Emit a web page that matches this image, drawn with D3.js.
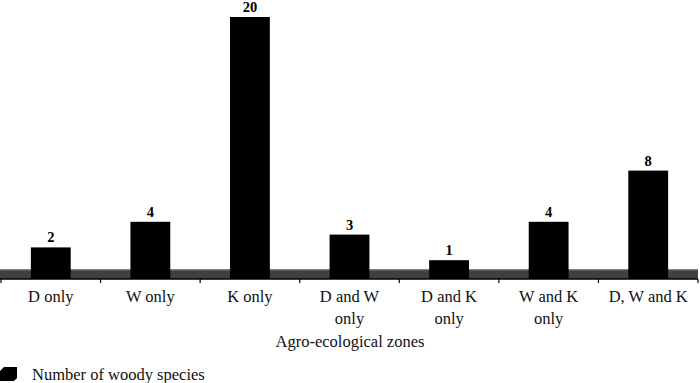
<!DOCTYPE html>
<html>
<head>
<meta charset="utf-8">
<script src="https://cdn.jsdelivr.net/npm/d3@7"></script>
<style>
  body { margin: 0; background: #fff; }
  text { font-family: "Liberation Serif", "Times New Roman", serif; }
</style>
</head>
<body>
<div id="chart"></div>
<script>
// data
const categories = [["D only"], ["W only"], ["K only"], ["D and W", "only"], ["D and K", "only"], ["W and K", "only"], ["D, W and K"]];
const counts = [2, 4, 20, 3, 1, 4, 8];
const seriesName = "Number of woody species";
const axisTitle = "Agro-ecological zones";

const W = 700, H = 383;
const MARGIN = { LEFT: 1, RIGHT: 2, TOP: 17, BOTTOM: 105 };

const svg = d3.select("#chart").append("svg")
  .attr("width", W).attr("height", H);

const x = d3.scaleBand()
  .domain(d3.range(categories.length))
  .range([MARGIN.LEFT, W - MARGIN.RIGHT])
  .paddingInner(0.6).paddingOuter(0.3);

const y = d3.scaleLinear()
  .domain([0, 20])
  .range([273, 17]);

const floorTop = 269.5, floorBottom = 279;

// 3D floor
svg.append("rect")
  .attr("x", 0).attr("y", floorTop)
  .attr("width", W - 2).attr("height", floorBottom - floorTop)
  .attr("fill", "#404040");
svg.append("line")
  .attr("x1", 0).attr("x2", W - 2)
  .attr("y1", floorTop + 0.5).attr("y2", floorTop + 0.5)
  .attr("stroke", "#6a6a6a");

// bars
svg.selectAll(".bar")
  .data(counts)
  .join("rect")
  .attr("class", "bar")
  .attr("x", (d, i) => x(i))
  .attr("width", x.bandwidth())
  .attr("y", d => y(d))
  .attr("height", d => floorBottom - y(d))
  .attr("fill", "#000");

// value labels
svg.selectAll(".val")
  .data(counts)
  .join("text")
  .attr("class", "val")
  .attr("x", (d, i) => x(i) + x.bandwidth() / 2)
  .attr("y", d => y(d) - 5)
  .attr("text-anchor", "middle")
  .attr("font-size", 14.5)
  .attr("font-weight", "bold")
  .text(d => d);

// x axis with ticks between categories
const outer = d3.scaleLinear().domain([0, categories.length]).range([1, W - 2]);
const xAxis = svg.append("g")
  .attr("transform", `translate(0, ${floorBottom})`);
xAxis.append("line")
  .attr("x1", 0).attr("x2", W - 2)
  .attr("stroke", "#000").attr("stroke-width", 1.5);
xAxis.selectAll(".tick")
  .data(d3.range(categories.length + 1))
  .join("line")
  .attr("class", "tick")
  .attr("x1", d => outer(d)).attr("x2", d => outer(d))
  .attr("y1", 0).attr("y2", 4)
  .attr("stroke", "#000").attr("stroke-width", 1.2);

const labels = xAxis.selectAll(".lbl")
  .data(categories)
  .join("text")
  .attr("class", "lbl")
  .attr("text-anchor", "middle")
  .attr("font-size", 16.5)
  .attr("fill", "#111");
labels.selectAll("tspan")
  .data((d, i) => d.map(s => ({ s, i })))
  .join("tspan")
  .attr("x", d => x(d.i) + x.bandwidth() / 2)
  .attr("y", (d, j) => 23 + j * 22)
  .text(d => d.s);

svg.append("text")
  .attr("x", W / 2).attr("y", 347)
  .attr("text-anchor", "middle")
  .attr("font-size", 16.5)
  .attr("fill", "#111")
  .text(axisTitle);

// legend
const lg = svg.append("g").attr("transform", "translate(0, 367)");
lg.append("path")
  .attr("d", "M4,0 L17,0 L17,11 L14,14 L0,14 L0,4 Z")
  .attr("fill", "#000");
lg.append("text")
  .attr("x", 32).attr("y", 12.5)
  .attr("font-size", 16.5)
  .attr("fill", "#111")
  .text(seriesName);
</script>
</body>
</html>
